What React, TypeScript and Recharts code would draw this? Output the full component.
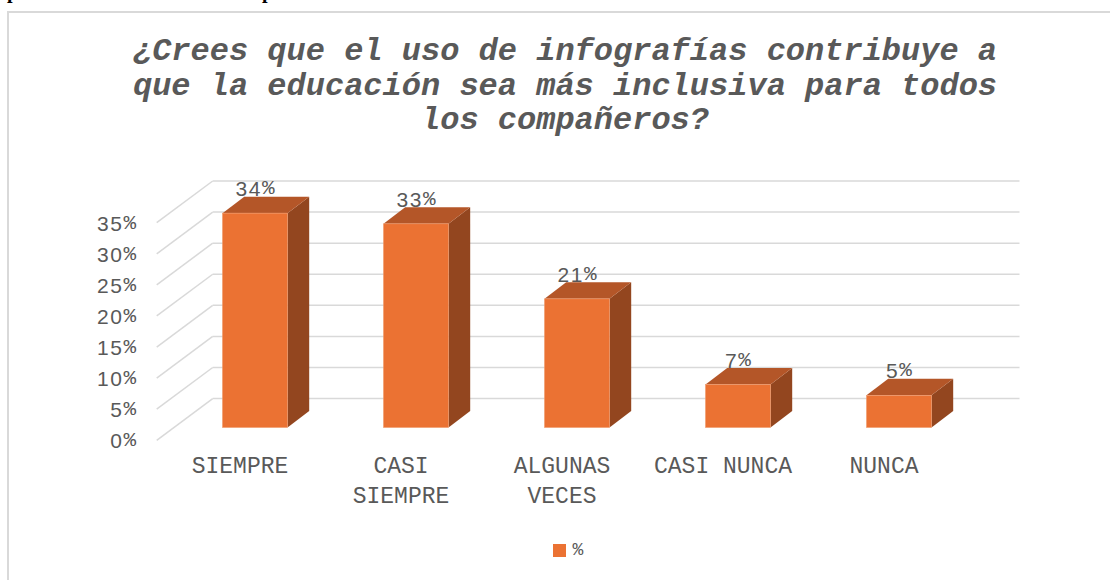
import React from 'react';
import { BarChart, Bar, XAxis, YAxis, CartesianGrid, LabelList, Legend } from 'recharts';

// ---- data ----
const categories = ['SIEMPRE', 'CASI SIEMPRE', 'ALGUNAS VECES', 'CASI NUNCA', 'NUNCA'];
const percentValues = [34.48, 32.76, 20.69, 6.9, 5.17];
const yTicks = [0, 5, 10, 15, 20, 25, 30, 35];
const seriesName = '%';
const titleLines = [
  '¿Crees que el uso de infografías contribuye a',
  'que la educación sea más inclusiva para todos',
  'los compañeros?',
];

const data = categories.map((c, i) => ({ name: c, value: percentValues[i] }));

// ---- styles ----
const FRONT = '#eb7233';
const TOP = '#b45628';
const SIDE = '#93461f';
const GRID = '#d9d9d9';
const TEXT = '#595959';
const MONO = '"Liberation Mono", "Courier New", monospace';
const SANS = '"Liberation Sans", Arial, sans-serif';

// perspective offsets (3D look)
const FRONT_DX = 15;
const FRONT_DY = -12.8;
const DEPTH_X = 21.7;
const DEPTH_Y = -16.5;
const WALL_DX = 56;
const WALL_DY = -41.7;

const Box3D = (props: any) => {
  const { x, y, width, height } = props;
  if (width == null || height == null) return null;
  const fx = x + FRONT_DX;
  const fy = y + FRONT_DY;
  const top = `M${fx},${fy} L${fx + DEPTH_X},${fy + DEPTH_Y} L${fx + width + DEPTH_X},${fy + DEPTH_Y} L${fx + width},${fy} Z`;
  const side = `M${fx + width},${fy} L${fx + width + DEPTH_X},${fy + DEPTH_Y} L${fx + width + DEPTH_X},${fy + height + DEPTH_Y} L${fx + width},${fy + height} Z`;
  return (
    <g>
      <path d={side} fill={SIDE} />
      <path d={top} fill={TOP} />
      <rect x={fx} y={fy} width={width} height={height} fill={FRONT} stroke="#f09a6c" strokeWidth={0.6} />
    </g>
  );
};

const gridLine = (props: any) => {
  const { x1, x2, y1, key } = props;
  const bx = x1 + WALL_DX - 2.8;
  const by = y1 + WALL_DY;
  return (
    <g key={key}>
      <line x1={x1 - 2.8} y1={y1} x2={bx} y2={by} stroke={GRID} strokeWidth={1.5} />
      <line x1={bx} y1={by} x2={x2 + 55} y2={by} stroke={GRID} strokeWidth={1.5} />
    </g>
  );
};

const YTick = (props: any) => {
  const { x, y, payload } = props;
  return (
    <text x={x} y={y} textAnchor="end" dominantBaseline="central" fill={TEXT} fontSize={21}>
      <tspan fontFamily={SANS} letterSpacing={1.5}>{payload.value}</tspan>
      <tspan fontFamily={MONO}>%</tspan>
    </text>
  );
};

const XTick = (props: any) => {
  const { x, y, payload } = props;
  const label: string = payload.value;
  const lines = label.length > 10 ? label.split(' ') : [label];
  return (
    <text x={x} y={y} textAnchor="middle" fill={TEXT} fontSize={23} fontFamily={MONO}>
      {lines.map((l, i) => (
        <tspan key={i} x={x} dy={i === 0 ? 33 : 30}>{l}</tspan>
      ))}
    </text>
  );
};

const ValueLabel = (props: any) => {
  const { x, y, width, value } = props;
  const cx = x + width / 2 + FRONT_DX;
  const cy = y + FRONT_DY - 25;
  return (
    <text x={cx} y={cy} textAnchor="middle" dominantBaseline="central" fill={TEXT} fontSize={21}>
      <tspan fontFamily={SANS} letterSpacing={1.5}>{Math.round(value)}</tspan>
      <tspan fontFamily={MONO}>%</tspan>
    </text>
  );
};

const LegendContent = (props: any) => {
  const items = props.payload || [];
  return (
    <div style={{ display: 'flex', justifyContent: 'center', alignItems: 'center' }}>
      {items.map((it: any, i: number) => (
        <div key={i} style={{ display: 'flex', alignItems: 'center' }}>
          <span style={{ display: 'inline-block', width: 13, height: 13, background: FRONT, marginRight: 7 }} />
          <span style={{ fontFamily: MONO, fontSize: 18, color: TEXT, lineHeight: '21px' }}>{it.value}</span>
        </div>
      ))}
    </div>
  );
};

export default function App() {
  return (
    <div style={{ position: 'absolute', left: 0, top: 0, width: 1110, height: 580, overflow: 'hidden', background: '#fff' }}>
      {/* cropped text from the page above */}
      <span style={{ position: 'absolute', left: 7, top: -19.5, fontFamily: '"Liberation Serif", serif', fontWeight: 'bold', fontSize: 20, lineHeight: '20px', color: '#000' }}>p</span>
      <span style={{ position: 'absolute', left: 262, top: -19.5, fontFamily: '"Liberation Serif", serif', fontWeight: 'bold', fontSize: 20, lineHeight: '20px', color: '#000' }}>p</span>
      {/* chart frame */}
      <div style={{ position: 'absolute', left: 7, top: 11, width: 1130, height: 600, border: `2px solid ${GRID}`, boxSizing: 'border-box' }} />
      {/* title */}
      <div style={{ position: 'absolute', left: 0, top: 35, width: 1130, textAlign: 'center', fontFamily: MONO, fontWeight: 'bold', fontStyle: 'italic', fontSize: 32, lineHeight: '34.5px', color: TEXT, whiteSpace: 'nowrap' }}>
        {titleLines.map((l, i) => (
          <div key={i}>{l}</div>
        ))}
      </div>
      <div style={{ position: 'absolute', left: 0, top: 0 }}>
        <BarChart
          width={1110}
          height={580}
          data={data}
          margin={{ top: 222.7, right: 145.5, bottom: 109.7, left: 99.5 }}
        >
          <CartesianGrid vertical={false} horizontal={gridLine} />
          <XAxis dataKey="name" height={30} tickLine={false} axisLine={false} tickSize={0} tickMargin={0} tick={<XTick />} interval={0} />
          <YAxis width={60} domain={[0, 35]} ticks={yTicks} tickLine={false} axisLine={false} tickSize={0} tickMargin={23.5} tick={<YTick />} interval={0} />
          <Legend verticalAlign="middle" content={<LegendContent />} wrapperStyle={{ top: 540, left: 0, width: 1136 }} />
          <Bar dataKey="value" name={seriesName} barSize={65} shape={<Box3D />} isAnimationActive={false}>
            <LabelList dataKey="value" content={<ValueLabel />} />
          </Bar>
        </BarChart>
      </div>
    </div>
  );
}
